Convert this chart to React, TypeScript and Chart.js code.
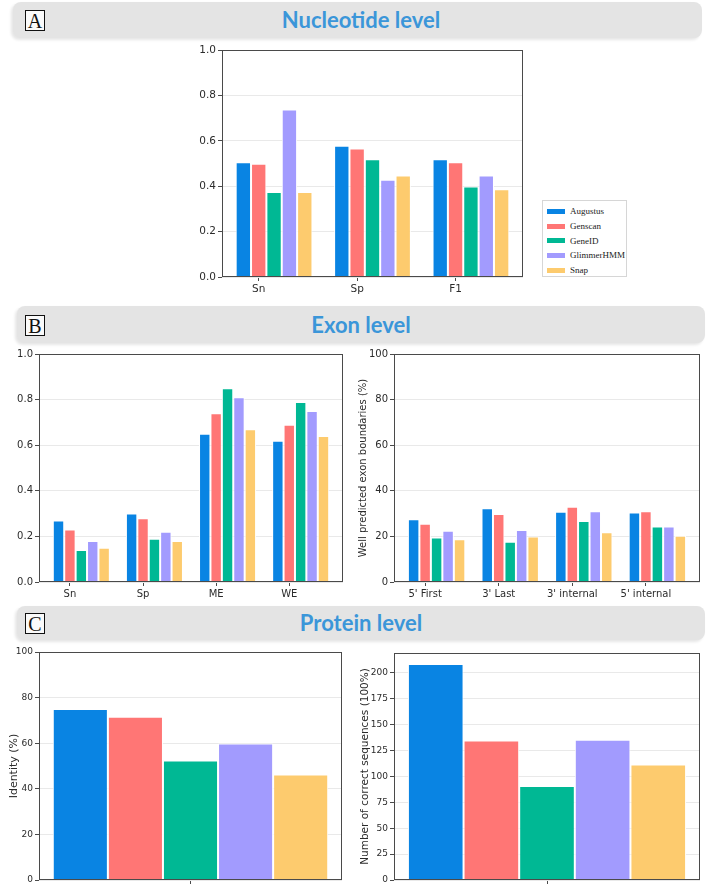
import React, { useEffect, useRef } from "react";
import { Chart, registerables } from "chart.js";
Chart.register(...registerables);

// ---------- data ----------
const SERIES = ["Augustus", "Genscan", "GeneID", "GlimmerHMM", "Snap"];
const COLORS = ["#0984e3", "#ff7675", "#00b894", "#a29bfe", "#fdcb6e"];

const nucCategories = ["Sn", "Sp", "F1"];
const nucAugustus = [0.506, 0.578, 0.519];
const nucGenscan = [0.499, 0.566, 0.506];
const nucGeneID = [0.375, 0.519, 0.399];
const nucGlimmer = [0.738, 0.428, 0.447];
const nucSnap = [0.375, 0.447, 0.387];

const exonCategories = ["Sn", "Sp", "ME", "WE"];
const exonAugustus = [0.27, 0.3, 0.65, 0.62];
const exonGenscan = [0.23, 0.28, 0.74, 0.69];
const exonGeneID = [0.14, 0.19, 0.85, 0.79];
const exonGlimmer = [0.18, 0.22, 0.81, 0.75];
const exonSnap = [0.15, 0.18, 0.67, 0.64];

const boundCategories = ["5' First", "3' Last", "3' internal", "5' internal"];
const boundAugustus = [27.5, 32.3, 30.8, 30.5];
const boundGenscan = [25.5, 29.8, 33.0, 31.0];
const boundGeneID = [19.5, 17.7, 26.8, 24.3];
const boundGlimmer = [22.5, 22.8, 31.0, 24.3];
const boundSnap = [18.8, 20.0, 21.8, 20.3];

// one value per series (Augustus, Genscan, GeneID, GlimmerHMM, Snap)
const proteinIdentity = [75.0, 71.6, 52.4, 59.9, 46.3];
const correctSequences = [208.4, 134.6, 90.8, 135.3, 111.4];

const unitTicks = [0, 0.2, 0.4, 0.6, 0.8, 1.0];
const pctTicks = [0, 20, 40, 60, 80, 100];
const countTicks = [0, 25, 50, 75, 100, 125, 150, 175, 200];

// ---------- styling helpers ----------
const TICK_FONT = "DejaVu Sans";
const W_BAR = 0.156;
const FRAME = "#4a4a4a";

const framePlugin = {
  id: "frame",
  afterDatasetsDraw(chart: any) {
    const { ctx, chartArea: a } = chart;
    ctx.save();
    ctx.strokeStyle = FRAME;
    ctx.lineWidth = 1;
    const l = Math.round(a.left) + 0.5;
    const t = Math.round(a.top) + 0.5;
    const r = Math.round(a.right) - 0.5;
    const b = Math.round(a.bottom) - 0.5;
    ctx.strokeRect(l, t, r - l, b - t);
    ctx.restore();
  },
};

function groupedDatasets(values: number[][]) {
  return SERIES.map((name, k) => ({
    label: name,
    data: values[k].map((v, i) => ({ x: i, y: v })),
    backgroundColor: COLORS[k],
    borderColor: "#ffffff",
    borderWidth: 1,
    borderSkipped: "start",
    categoryPercentage: 5 * W_BAR,
    barPercentage: 1,
  }));
}

function singleDatasets(values: number[]) {
  return SERIES.map((name, k) => ({
    label: name,
    data: [values[k]],
    backgroundColor: COLORS[k],
    borderColor: "#ffffff",
    borderWidth: 1,
    borderSkipped: "start",
    categoryPercentage: 0.909,
    barPercentage: 1,
  }));
}

function groupXScale(cats: string[], fontSize: number, xH: number) {
  const span = cats.length - 1 + 5 * W_BAR;
  const m = 0.05 * span;
  return {
    type: "linear",
    min: -2.5 * W_BAR - m,
    max: cats.length - 1 + 2.5 * W_BAR + m,
    offset: false,
    afterBuildTicks: (s: any) => {
      s.ticks = cats.map((_c, i) => ({ value: i - W_BAR }));
    },
    afterFit: (s: any) => {
      s.height = xH;
    },
    ticks: {
      autoSkip: false,
      maxRotation: 0,
      minRotation: 0,
      padding: 2,
      color: "#2b2b2b",
      font: { family: TICK_FONT, size: fontSize },
      callback: (_v: any, i: number) => cats[i],
    },
    grid: {
      display: true,
      drawOnChartArea: false,
      drawTicks: true,
      tickLength: 4,
      tickColor: FRAME,
      offset: false,
    },
    border: { display: false },
  };
}

function singleXScale(xH: number) {
  return {
    type: "category",
    offset: true,
    afterFit: (s: any) => {
      s.height = xH;
    },
    ticks: { display: true, padding: 2, font: { family: TICK_FONT, size: 9 } },
    grid: {
      display: true,
      drawOnChartArea: false,
      drawTicks: true,
      tickLength: 4,
      tickColor: FRAME,
      offset: false,
    },
    border: { display: false },
  };
}

function yScale(
  tickValues: number[],
  max: number,
  fontSize: number,
  digits: number,
  yW: number,
  title?: { text: string; size: number; pad: number }
) {
  return {
    type: "linear",
    min: 0,
    max,
    afterBuildTicks: (s: any) => {
      s.ticks = tickValues.map((v) => ({ value: v }));
    },
    afterFit: (s: any) => {
      s.width = yW;
    },
    ticks: {
      padding: 2,
      color: "#2b2b2b",
      font: { family: TICK_FONT, size: fontSize },
      callback: (v: any) => Number(v).toFixed(digits),
    },
    grid: {
      color: "#e9e9e9",
      lineWidth: 1,
      drawTicks: true,
      tickLength: 4,
      tickColor: FRAME,
    },
    border: { display: false },
    title: title
      ? {
          display: true,
          text: title.text,
          color: "#2b2b2b",
          font: { family: TICK_FONT, size: title.size },
          padding: { top: title.pad, bottom: 0 },
        }
      : { display: false },
  };
}

type PanelProps = {
  left: number;
  top: number;
  width: number;
  height: number;
  plot: [number, number, number, number]; // left, top, right, bottom in page px
  build: (yW: number, xH: number) => any;
};

function ChartPanel({ left, top, width, height, plot, build }: PanelProps) {
  const ref = useRef<HTMLCanvasElement>(null);
  useEffect(() => {
    const [pl, pt, pr, pb] = plot;
    const yW = pl - left;
    const xH = top + height - pb;
    const cfg = build(yW, xH);
    cfg.options.layout = {
      padding: { top: pt - top, right: left + width - pr, left: 0, bottom: 0 },
    };
    const chart = new Chart(ref.current as HTMLCanvasElement, cfg);
    return () => chart.destroy();
  }, []);
  return (
    <canvas
      ref={ref}
      width={width}
      height={height}
      style={{ position: "absolute", left, top, width, height }}
    />
  );
}

function baseOptions(x: any, y: any) {
  return {
    responsive: false,
    animation: false,
    events: [],
    plugins: { legend: { display: false }, tooltip: { enabled: false } },
    scales: { x, y },
  };
}

function Header({
  left,
  top,
  width,
  height,
  letter,
  title,
}: {
  left: number;
  top: number;
  width: number;
  height: number;
  letter: string;
  title: string;
}) {
  return (
    <>
      <div
        style={{
          position: "absolute",
          left,
          top,
          width,
          height,
          background: "#e4e4e4",
          borderRadius: 8,
          boxShadow: "-2px 2px 3px rgba(0,0,0,0.10)",
        }}
      />
      <div
        style={{
          position: "absolute",
          left: 25,
          top: top + Math.round((height - 20) / 2),
          width: 18,
          height: 19,
          border: "1px solid #111",
          background: "#fafafa",
          fontFamily: "'Liberation Serif', serif",
          fontSize: 20,
          lineHeight: "20px",
          textAlign: "center",
          color: "#111",
        }}
      >
        {letter}
      </div>
      <div
        style={{
          position: "absolute",
          left: 211,
          width: 300,
          top,
          height,
          lineHeight: `${height}px`,
          textAlign: "center",
          fontFamily: "Lato, 'Open Sans', sans-serif",
          fontWeight: 700,
          fontSize: 22,
          color: "#3b96d9",
        }}
      >
        {title}
      </div>
    </>
  );
}

function Legend() {
  return (
    <div
      style={{
        position: "absolute",
        left: 542,
        top: 200,
        width: 85,
        height: 77,
        border: "1px solid #d6d6d6",
        background: "#fff",
        boxSizing: "border-box",
        paddingTop: 3,
      }}
    >
      {SERIES.map((s, k) => (
        <div
          key={s}
          style={{
            display: "flex",
            alignItems: "center",
            height: 14.7,
            paddingLeft: 4,
          }}
        >
          <span
            style={{
              display: "inline-block",
              width: 18,
              height: 5,
              background: COLORS[k],
              marginRight: 5,
            }}
          />
          <span
            style={{
              fontFamily: "'Liberation Serif', serif",
              fontSize: 9,
              color: "#222",
            }}
          >
            {s}
          </span>
        </div>
      ))}
    </div>
  );
}

export default function App() {
  return (
    <div
      style={{
        position: "absolute",
        left: 0,
        top: 0,
        width: 709,
        height: 885,
        overflow: "hidden",
        background: "#fff",
      }}
    >
      <Header left={13} top={2} width={689} height={36} letter="A" title="Nucleotide level" />
      <Header left={17} top={306} width={688} height={37} letter="B" title="Exon level" />
      <Header left={17} top={606} width={688} height={34} letter="C" title="Protein level" />

      <ChartPanel
        left={180}
        top={40}
        width={360}
        height={265}
        plot={[222, 50, 523, 277]}
        build={(yW, xH) => ({
          type: "bar",
          data: {
            datasets: groupedDatasets([nucAugustus, nucGenscan, nucGeneID, nucGlimmer, nucSnap]),
          },
          options: baseOptions(groupXScale(nucCategories, 10.5, xH), yScale(unitTicks, 1, 10.5, 1, yW)),
          plugins: [framePlugin],
        })}
      />
      <Legend />

      <ChartPanel
        left={0}
        top={345}
        width={350}
        height={260}
        plot={[39, 354, 343, 582]}
        build={(yW, xH) => ({
          type: "bar",
          data: {
            datasets: groupedDatasets([exonAugustus, exonGenscan, exonGeneID, exonGlimmer, exonSnap]),
          },
          options: baseOptions(groupXScale(exonCategories, 10, xH), yScale(unitTicks, 1, 10, 1, yW)),
          plugins: [framePlugin],
        })}
      />
      <ChartPanel
        left={355}
        top={345}
        width={354}
        height={260}
        plot={[394, 354, 700, 582]}
        build={(yW, xH) => ({
          type: "bar",
          data: {
            datasets: groupedDatasets([boundAugustus, boundGenscan, boundGeneID, boundGlimmer, boundSnap]),
          },
          options: baseOptions(
            groupXScale(boundCategories, 10, xH),
            yScale(pctTicks, 100, 10, 0, yW, {
              text: "Well predicted exon boundaries (%)",
              size: 10,
              pad: 2,
            })
          ),
          plugins: [framePlugin],
        })}
      />

      <ChartPanel
        left={0}
        top={642}
        width={350}
        height={252}
        plot={[39, 652, 342, 880]}
        build={(yW, xH) => ({
          type: "bar",
          data: { labels: [""], datasets: singleDatasets(proteinIdentity) },
          options: baseOptions(
            singleXScale(xH),
            yScale(pctTicks, 100, 9, 0, yW, { text: "Identity (%)", size: 11, pad: 8 })
          ),
          plugins: [framePlugin],
        })}
      />
      <ChartPanel
        left={357}
        top={642}
        width={352}
        height={252}
        plot={[394, 653, 700, 880]}
        build={(yW, xH) => ({
          type: "bar",
          data: { labels: [""], datasets: singleDatasets(correctSequences) },
          options: baseOptions(
            singleXScale(xH),
            yScale(countTicks, 219, 9, 0, yW, {
              text: "Number of correct sequences (100%)",
              size: 10.5,
              pad: 2,
            })
          ),
          plugins: [framePlugin],
        })}
      />
    </div>
  );
}
